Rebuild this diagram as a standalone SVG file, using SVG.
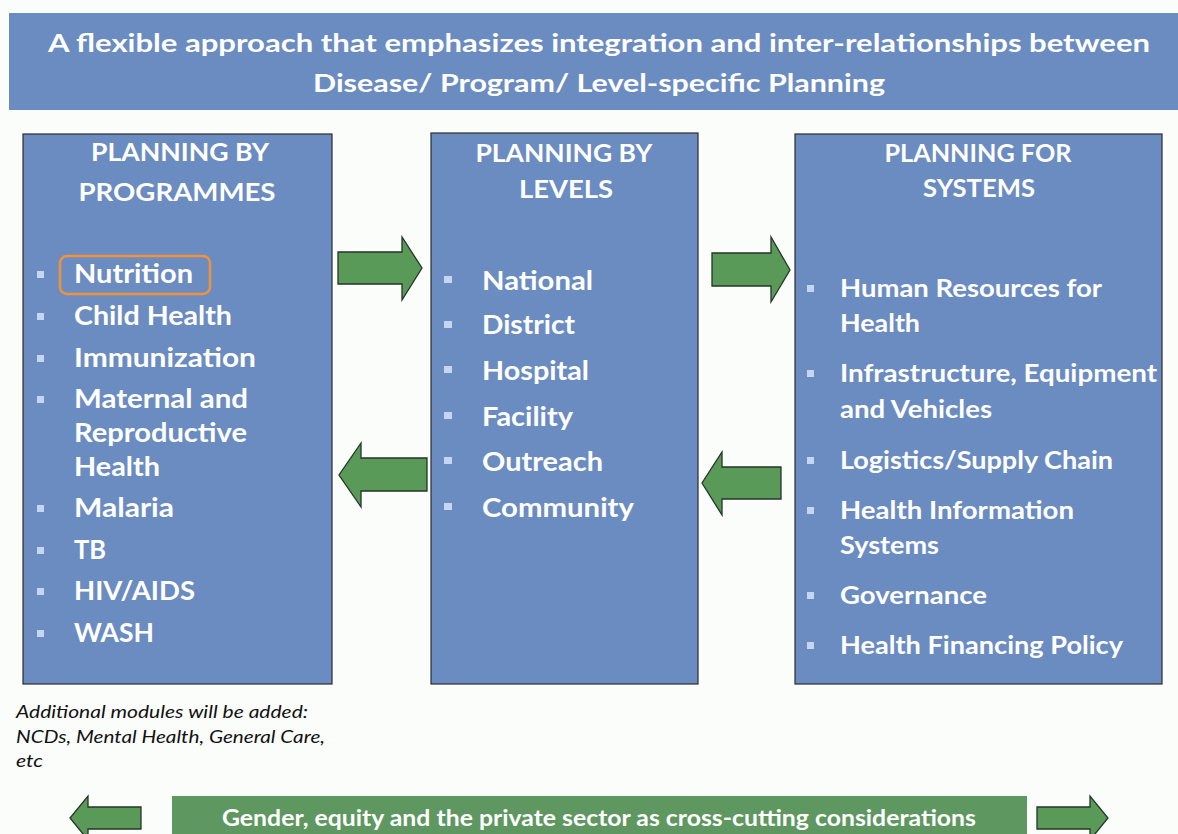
<svg xmlns="http://www.w3.org/2000/svg" width="1178" height="834" viewBox="0 0 1178 834">
<defs>
<style>
.bg{fill:#fbfdfb}
.band{fill:#6b8cc1}
.box{fill:#6b8cc1;stroke:#2b2b2b;stroke-width:1.2}
.arrow{fill:#5a9a58;stroke:#25342a;stroke-width:1.3;stroke-linejoin:miter}
.gband{fill:#5e9760}
.t{font-family:Lato,"Open Sans","Liberation Sans",sans-serif;font-weight:bold;fill:#ffffff}
.hd{font-size:25px}
.ti{font-size:25px}
.it{font-size:27px}
.it3{font-size:25px}
.bt{font-size:22px}
.note{font-family:Lato,"Open Sans","Liberation Sans",sans-serif;font-style:italic;font-size:17px;fill:#111111}
.bul{fill:#c6d6f0}
.hl{fill:none;stroke:#f0923c;stroke-width:2.5}
</style>
</defs>
<rect class="bg" x="0" y="0" width="1178" height="834"/>

<g id="header">
<rect class="band" x="9" y="13" width="1169" height="97"/>
<text class="t hd" x="599" y="52" text-anchor="middle" textLength="1102" lengthAdjust="spacingAndGlyphs">A flexible approach that emphasizes integration and inter-relationships between</text>
<text class="t hd" x="599" y="92" text-anchor="middle" textLength="572" lengthAdjust="spacingAndGlyphs">Disease/ Program/ Level-specific Planning</text>
</g>

<g id="programmes">
<rect class="box" x="23" y="134" width="309" height="550"/>
<text class="t ti" x="180" y="161" text-anchor="middle" textLength="178" lengthAdjust="spacingAndGlyphs">PLANNING BY</text>
<text class="t ti" x="177" y="201" text-anchor="middle" textLength="197" lengthAdjust="spacingAndGlyphs">PROGRAMMES</text>
<rect class="hl" x="60" y="256" width="150" height="38" rx="7"/>
<rect class="bul" x="37" y="271" width="7" height="7"/>
<text class="t it" x="74" y="283" textLength="119" lengthAdjust="spacingAndGlyphs">Nutrition</text>
<rect class="bul" x="37" y="313" width="7" height="7"/>
<text class="t it" x="74" y="325" textLength="158" lengthAdjust="spacingAndGlyphs">Child Health</text>
<rect class="bul" x="37" y="355" width="7" height="7"/>
<text class="t it" x="74" y="367" textLength="182" lengthAdjust="spacingAndGlyphs">Immunization</text>
<rect class="bul" x="37" y="396" width="7" height="7"/>
<text class="t it" x="74" y="408" textLength="174" lengthAdjust="spacingAndGlyphs">Maternal and</text>
<text class="t it" x="74" y="442" textLength="173" lengthAdjust="spacingAndGlyphs">Reproductive</text>
<text class="t it" x="74" y="476" textLength="86" lengthAdjust="spacingAndGlyphs">Health</text>
<rect class="bul" x="37" y="505" width="7" height="7"/>
<text class="t it" x="74" y="517" textLength="100" lengthAdjust="spacingAndGlyphs">Malaria</text>
<rect class="bul" x="37" y="547" width="7" height="7"/>
<text class="t it" x="74" y="559" textLength="32" lengthAdjust="spacingAndGlyphs">TB</text>
<rect class="bul" x="37" y="588" width="7" height="7"/>
<text class="t it" x="74" y="600" textLength="121" lengthAdjust="spacingAndGlyphs">HIV/AIDS</text>
<rect class="bul" x="37" y="630" width="7" height="7"/>
<text class="t it" x="74" y="642" textLength="80" lengthAdjust="spacingAndGlyphs">WASH</text>
</g>

<g id="levels">
<rect class="box" x="431" y="133" width="267" height="551"/>
<text class="t ti" x="564" y="162" text-anchor="middle" textLength="177" lengthAdjust="spacingAndGlyphs">PLANNING BY</text>
<text class="t ti" x="566" y="198" text-anchor="middle" textLength="94" lengthAdjust="spacingAndGlyphs">LEVELS</text>
<rect class="bul" x="444" y="276" width="8" height="7"/>
<text class="t it" x="482" y="290" textLength="111" lengthAdjust="spacingAndGlyphs">National</text>
<rect class="bul" x="444" y="321" width="8" height="7"/>
<text class="t it" x="482" y="334" textLength="93" lengthAdjust="spacingAndGlyphs">District</text>
<rect class="bul" x="444" y="366" width="8" height="7"/>
<text class="t it" x="482" y="380" textLength="107" lengthAdjust="spacingAndGlyphs">Hospital</text>
<rect class="bul" x="444" y="412" width="8" height="7"/>
<text class="t it" x="482" y="426" textLength="91" lengthAdjust="spacingAndGlyphs">Facility</text>
<rect class="bul" x="444" y="457" width="8" height="7"/>
<text class="t it" x="482" y="471" textLength="121" lengthAdjust="spacingAndGlyphs">Outreach</text>
<rect class="bul" x="444" y="503" width="8" height="7"/>
<text class="t it" x="482" y="517" textLength="152" lengthAdjust="spacingAndGlyphs">Community</text>
</g>

<g id="systems">
<rect class="box" x="795" y="134" width="367" height="550"/>
<text class="t ti" x="978" y="162" text-anchor="middle" textLength="187" lengthAdjust="spacingAndGlyphs">PLANNING FOR</text>
<text class="t ti" x="979" y="197" text-anchor="middle" textLength="112" lengthAdjust="spacingAndGlyphs">SYSTEMS</text>
<rect class="bul" x="807" y="285" width="7" height="7"/>
<text class="t it3" x="840" y="297" textLength="262" lengthAdjust="spacingAndGlyphs">Human Resources for</text>
<text class="t it3" x="840" y="332" textLength="80" lengthAdjust="spacingAndGlyphs">Health</text>
<rect class="bul" x="807" y="370" width="7" height="7"/>
<text class="t it3" x="840" y="382" textLength="317" lengthAdjust="spacingAndGlyphs">Infrastructure, Equipment</text>
<text class="t it3" x="840" y="418" textLength="152" lengthAdjust="spacingAndGlyphs">and Vehicles</text>
<rect class="bul" x="807" y="457" width="7" height="7"/>
<text class="t it3" x="840" y="469" textLength="273" lengthAdjust="spacingAndGlyphs">Logistics/Supply Chain</text>
<rect class="bul" x="807" y="507" width="7" height="7"/>
<text class="t it3" x="840" y="519" textLength="234" lengthAdjust="spacingAndGlyphs">Health Information</text>
<text class="t it3" x="840" y="554" textLength="99" lengthAdjust="spacingAndGlyphs">Systems</text>
<rect class="bul" x="807" y="592" width="7" height="7"/>
<text class="t it3" x="840" y="604" textLength="147" lengthAdjust="spacingAndGlyphs">Governance</text>
<rect class="bul" x="807" y="642" width="7" height="7"/>
<text class="t it3" x="840" y="654" textLength="283" lengthAdjust="spacingAndGlyphs">Health Financing Policy</text>
</g>

<g id="note">
<text class="note" x="16" y="718" textLength="292" lengthAdjust="spacingAndGlyphs">Additional modules will be added:</text>
<text class="note" x="16" y="743" textLength="309" lengthAdjust="spacingAndGlyphs">NCDs, Mental Health, General Care,</text>
<text class="note" x="16" y="767" textLength="27" lengthAdjust="spacingAndGlyphs">etc</text>
</g>

<g id="crosscutting">
<rect class="gband" x="172" y="796" width="855" height="40"/>
<text class="t bt" x="599" y="826" text-anchor="middle" textLength="754" lengthAdjust="spacingAndGlyphs">Gender, equity and the private sector as cross-cutting considerations</text>
</g>

<g id="connectors">
<path class="arrow" d="M338,252 H402 V237 L422,268 L402,300 V284 H338 Z"/>
<path class="arrow" d="M712,253 H771 V237 L790,270 L771,302 V286 H712 Z"/>
<path class="arrow" d="M427,458 H361 V443 L339,475 L361,507 V491 H427 Z"/>
<path class="arrow" d="M781,467 H722 V452 L702,483 L722,515 V499 H781 Z"/>
<path class="arrow" d="M141,807 H88 V796 L70,818 L88,840 V829 H141 Z"/>
<path class="arrow" d="M1037,807 H1090 V796 L1108,818 L1090,840 V829 H1037 Z"/>
</g>
</svg>
